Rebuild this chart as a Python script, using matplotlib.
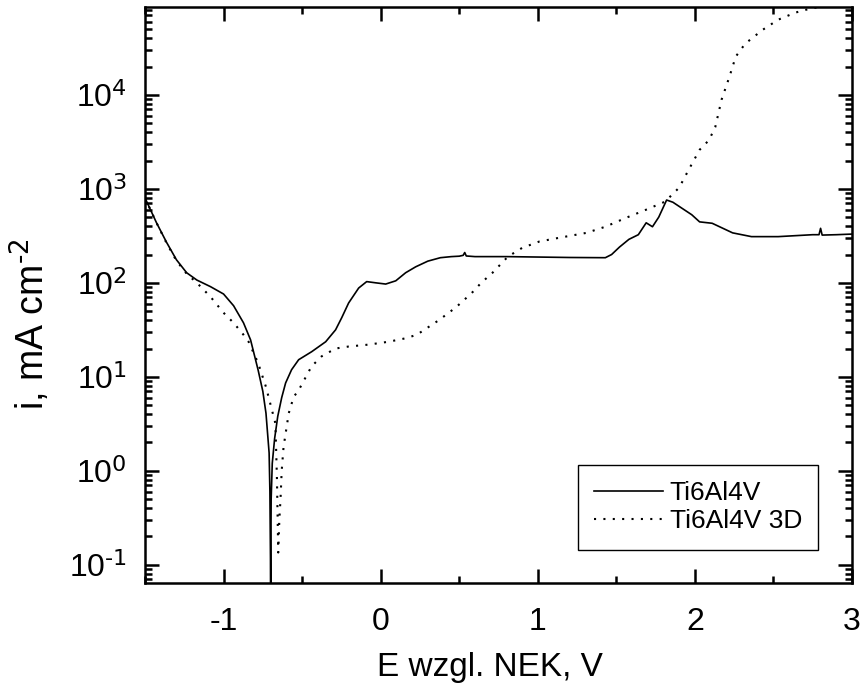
import numpy as np
import matplotlib
matplotlib.use("Agg")
from matplotlib import pyplot as plt
from matplotlib.ticker import LogLocator, MultipleLocator, NullFormatter, FuncFormatter

plt.rcParams['font.family'] = ['Liberation Sans', 'DejaVu Sans']
plt.rcParams['axes.unicode_minus'] = False

# Ti6Al4V (solid)
e_solid = [-1.50, -1.465, -1.427, -1.363, -1.30, -1.235, -1.17, -1.083, -1.00, -0.936, -0.873,
           -0.828, -0.78, -0.75, -0.73, -0.71, -0.705, -0.700, -0.697, -0.690, -0.675,
           -0.655, -0.63, -0.605, -0.567, -0.522, -0.439, -0.35, -0.287, -0.248, -0.204,
           -0.14, -0.089, -0.032, 0.032, 0.096, 0.159, 0.223, 0.30, 0.38, 0.45, 0.50, 0.525,
           0.535, 0.545, 0.60, 0.80, 1.00, 1.20, 1.43, 1.47, 1.52, 1.58, 1.64, 1.69, 1.73,
           1.77, 1.82, 1.86, 1.90, 1.98, 2.03, 2.11, 2.24, 2.36, 2.53, 2.75, 2.79, 2.80, 2.81,
           2.90, 3.00]
i_solid = [800, 598, 436, 270, 176, 128, 107, 91, 76, 57, 37.5,
           24.7, 11.8, 7, 4.1, 1.55, 0.6, 0.06, 0.5, 1.2, 2.2,
           3.8, 6.0, 8.6, 11.9, 15.2, 18.5, 23.6, 31.6, 42.5, 61,
           88, 103, 100, 97, 105, 128, 148, 170, 185, 190, 192, 196,
           210, 193, 190, 190, 188, 186, 185, 200, 240, 290, 325, 435, 395,
           500, 760, 720, 650, 530, 445, 430, 340, 310, 310, 325, 325, 380, 322,
           325, 330]

# Ti6Al4V 3D (dotted)
e_3d = [-1.50, -1.465, -1.427, -1.363, -1.30, -1.235, -1.17, -1.083, -1.00, -0.936, -0.873,
        -0.84, -0.78, -0.73, -0.68, -0.67, -0.66, -0.652, -0.645, -0.637, -0.63, -0.618,
        -0.585, -0.554, -0.52, -0.44, -0.376, -0.287, -0.204, -0.077, 0.05, 0.159, 0.23,
        0.37, 0.48, 0.58, 0.64, 0.71, 0.81, 0.90, 1.01, 1.13, 1.31, 1.43, 1.56, 1.69, 1.81,
        1.90, 1.96, 2.03, 2.09, 2.13, 2.17, 2.22, 2.26, 2.32, 2.43, 2.53, 2.64, 2.75, 2.85]
i_3d = [800, 598, 436, 265, 172, 125, 100, 71, 48, 37.5, 28,
        23.5, 14, 7.8, 3.7, 3.2, 0.8, 0.135, 0.3, 0.52, 1.0, 1.8,
        4.1, 6.1, 7.3, 12.9, 16.5, 20, 21, 22, 23.6, 25.7, 28,
        40, 55, 78, 100, 127, 190, 235, 275, 300, 340, 395, 490, 600, 730,
        1030, 1590, 2600, 3300, 4560, 8900, 15600, 25500, 35000, 49000, 63000, 75000, 84000, 88000]

labels = ['Ti6Al4V', 'Ti6Al4V 3D']
y_ticks = [1e-1, 1e0, 1e1, 1e2, 1e3, 1e4]

fig = plt.figure(figsize=(8.62, 7), dpi=100)
ax = fig.add_axes([145/862, 1-583/700, 707/862, 576/700])

ax.plot(e_solid, i_solid, color='black', lw=1.2, label=labels[0])
ax.plot(e_3d, i_3d, color='black', lw=1.5, linestyle=(0, (1, 3.5)), label=labels[1])

ax.set_yscale('log')
ax.set_xlim(-1.5, 3)
ax.set_ylim(0.064, 86000)

def pow10(v, pos):
    return r'$\mathdefault{10^{\text{%d}}}$' % int(round(np.log10(v)))

ax.xaxis.set_major_locator(MultipleLocator(1))
ax.xaxis.set_minor_locator(MultipleLocator(0.5))
ax.set_yticks(y_ticks)
ax.yaxis.set_major_formatter(FuncFormatter(pow10))
ax.yaxis.set_minor_locator(LogLocator(base=10, subs=np.arange(2, 10), numticks=100))
ax.yaxis.set_minor_formatter(NullFormatter())

for s in ax.spines.values():
    s.set_linewidth(1.8)
ax.tick_params(which='both', direction='in', top=True, right=True, width=1.8)
ax.tick_params(which='major', length=10)
ax.tick_params(which='minor', length=5)
ax.tick_params(axis='x', which='major', labelsize=23, pad=17)
ax.tick_params(axis='y', which='major', labelsize=23, pad=13)

ax.set_xlabel('E wzgl. NEK, V', fontsize=24)
ax.set_ylabel(r'i, mA cm$^{\text{-2}}$', fontsize=27)
ax.xaxis.set_label_coords(0.488, -0.12)
ax.yaxis.set_label_coords(-0.13, 0.45)

leg = ax.legend(loc='upper left', bbox_to_anchor=(578/862, 1-465/700),
                bbox_transform=fig.transFigure, borderaxespad=0, fontsize=19,
                fancybox=False, edgecolor='black', framealpha=1, borderpad=0.62,
                handlelength=2.6, handletextpad=0.25, labelspacing=0.15)
leg.get_frame().set_linewidth(1.0)

fig.savefig('out.png', dpi=100)
